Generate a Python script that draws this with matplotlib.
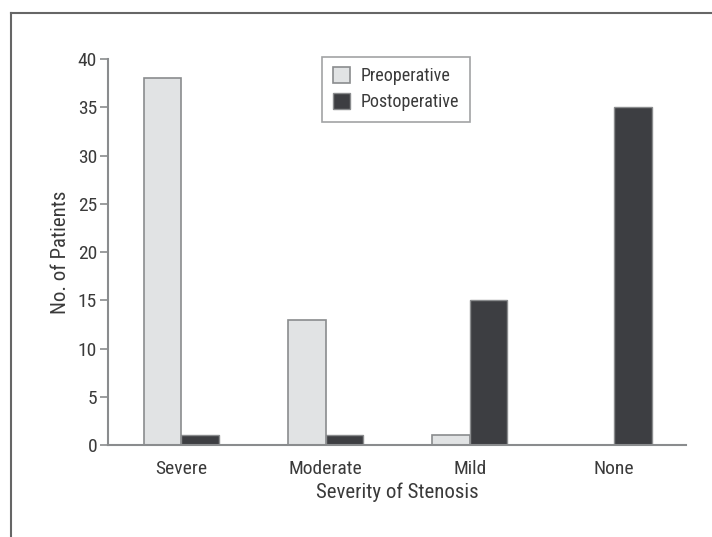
import matplotlib
matplotlib.use("Agg")
import matplotlib.pyplot as plt
import numpy as np
from matplotlib.lines import Line2D
from matplotlib import font_manager

_avail = set(f.name for f in font_manager.fontManager.ttflist)
_prefs = ['Roboto Condensed', 'Archivo Narrow', 'PT Sans Narrow', 'Liberation Sans Narrow',
          'Arial Narrow', 'Pragati Narrow', 'Roboto']
_fams = [f for f in _prefs if f in _avail] + ['DejaVu Sans']
plt.rcParams['font.family'] = _fams

categories = ["Severe", "Moderate", "Mild", "None"]
preoperative = [38, 13, 1, 0]
postoperative = [1, 1, 15, 35]
yticks = [0, 5, 10, 15, 20, 25, 30, 35, 40]

txt = '#3a3a3a'
spine = '#8a8c8e'
pre_col = '#e1e3e4'
post_col = '#3d3e42'

fig = plt.figure(figsize=(7.12, 5.37), dpi=100)
ax = fig.add_axes([0.152, 0.1713, 0.8115, 0.7187])

x = np.arange(len(categories))
w = 0.262
ax.bar(x - w/2, preoperative, w, color=pre_col, edgecolor=spine, linewidth=1.2, label='Preoperative')
ax.bar(x + w/2, postoperative, w, color=post_col, edgecolor=spine, linewidth=1.0, label='Postoperative')

ax.set_xlim(-0.507, 3.5)
ax.set_ylim(0, 40)
ax.set_yticks(yticks)
ax.set_xticks(x)
ax.set_xticklabels(categories)
for s in ['top', 'right']:
    ax.spines[s].set_visible(False)
for s in ['left', 'bottom']:
    ax.spines[s].set_color(spine)
    ax.spines[s].set_linewidth(1.5)
ax.tick_params(axis='y', direction='out', length=6, width=1.2, color=spine, labelsize=14, labelcolor=txt, pad=2)
ax.tick_params(axis='x', length=0, labelsize=14, labelcolor=txt, pad=11)
ax.set_xlabel('Severity of Stenosis', fontsize=15, color=txt, labelpad=3)
ax.set_ylabel('No. of Patients', fontsize=15, color=txt, labelpad=6)

leg = ax.legend(loc='upper left', bbox_to_anchor=(0.355, 1.03), fontsize=13, frameon=True,
                fancybox=False, edgecolor=spine, handlelength=0.95, handleheight=0.95,
                handletextpad=0.55, borderpad=0.6, labelspacing=0.45)
leg.get_frame().set_linewidth(1.2)
for t in leg.get_texts():
    t.set_color(txt)

# outer frame lines (top and left)
fig.add_artist(Line2D([11/712, 1.0], [1 - 12.5/537, 1 - 12.5/537], transform=fig.transFigure, color='#666666', linewidth=1.5))
fig.add_artist(Line2D([11/712, 11/712], [0.0, 1 - 12.5/537], transform=fig.transFigure, color='#666666', linewidth=1.5))

fig.savefig('out.png', dpi=100)
